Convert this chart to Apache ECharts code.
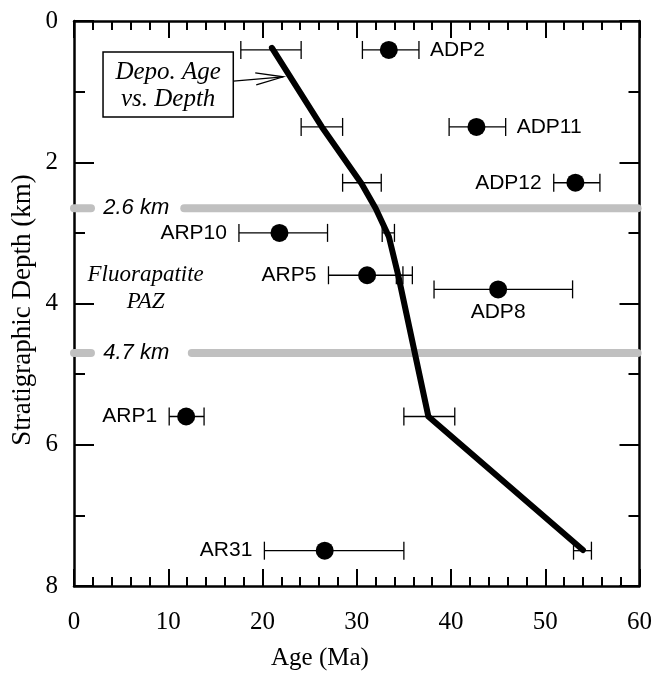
<!DOCTYPE html>
<html>
<head>
<meta charset="utf-8">
<script src="https://cdn.jsdelivr.net/npm/echarts@6/dist/echarts.min.js"></script>
<style>html,body{margin:0;padding:0;background:#fff;}#c{width:655px;height:675px;}</style>
</head>
<body>
<div id="c"></div>
<script>
// ---- data ----
const sampleNames = ['ADP2', 'ADP11', 'ADP12', 'ARP10', 'ARP5', 'ADP8', 'ARP1', 'AR31'];
const sampleAge   = [33.4, 42.7, 53.2, 21.8, 31.1, 45.0, 11.9, 26.6];
const sampleDepth = [0.41, 1.50, 2.29, 3.00, 3.60, 3.80, 5.60, 7.50];
const sampleAgeLo = [30.6, 39.8, 50.9, 17.5, 27.0, 38.2, 10.1, 20.2];
const sampleAgeHi = [36.6, 45.8, 55.8, 26.9, 35.9, 52.9, 13.8, 35.0];
const labelSide   = ['right', 'right', 'left', 'left', 'left', 'bottom', 'left', 'left'];

const depoAge   = [21.0, 26.3, 30.5, 32.0, 33.4, 34.4, 37.6, 54.0];
const depoDepth = [0.38, 1.50, 2.30, 2.65, 3.05, 3.60, 5.60, 7.49];

const depoErrDepth = [0.41, 1.50, 2.29, 3.00, 3.60, 5.60, 7.50];
const depoErrLo    = [17.7, 24.1, 28.5, 32.7, 34.2, 35.0, 53.0];
const depoErrHi    = [24.1, 28.5, 32.6, 34.0, 34.9, 40.4, 54.9];

const pazDepth    = [2.65, 4.70];
const pazLabels   = ['2.6 km', '4.7 km'];
const pazSegLeftEnd   = [1.8, 1.8];
const pazSegRightStart = [11.7, 12.5];

const xTicks = {min: 0, max: 60, interval: 10};
const yTicks = {min: 0, max: 8, interval: 2};

// ---- chart ----
const chart = echarts.init(document.getElementById('c'), null, {renderer: 'canvas'});
const serif = 'Liberation Serif';
const sans = 'Liberation Sans';

function axisCommon(showLabel, majorLen, minorLen, minorSplit) {
  return {
    type: 'value',
    axisLine: {show: true, onZero: false, lineStyle: {color: '#000', width: 2.5}},
    axisTick: {show: true, inside: true, length: majorLen, lineStyle: {color: '#000', width: 2}},
    minorTick: {show: true, splitNumber: minorSplit, length: minorLen, lineStyle: {color: '#000', width: 2}},
    splitLine: {show: false},
    minorSplitLine: {show: false},
    axisLabel: {show: showLabel, color: '#000', fontFamily: serif, fontSize: 25}
  };
}

const xMain = Object.assign(axisCommon(true, 17, 9, 5), {position: 'bottom', min: xTicks.min, max: xTicks.max, interval: xTicks.interval});
xMain.axisLabel.margin = 24;
const xTop = Object.assign(axisCommon(false, 17, 9, 5), {position: 'top', min: xTicks.min, max: xTicks.max, interval: xTicks.interval});
const yMain = Object.assign(axisCommon(true, 20, 11, 2), {position: 'left', inverse: true, min: yTicks.min, max: yTicks.max, interval: yTicks.interval});
yMain.axisLabel.margin = 16;
const yRight = Object.assign(axisCommon(false, 20, 11, 2), {position: 'right', inverse: true, min: yTicks.min, max: yTicks.max, interval: yTicks.interval});

function errRender(labelsOn) {
  return function (params, api) {
    const lo = api.coord([api.value(0), api.value(2)]);
    const hi = api.coord([api.value(1), api.value(2)]);
    const h = 9;
    const st = {stroke: '#000', lineWidth: 1.3};
    const children = [
      {type: 'line', shape: {x1: lo[0], y1: lo[1], x2: hi[0], y2: hi[1]}, style: st},
      {type: 'line', shape: {x1: lo[0], y1: lo[1] - h, x2: lo[0], y2: lo[1] + h}, style: st},
      {type: 'line', shape: {x1: hi[0], y1: hi[1] - h, x2: hi[0], y2: hi[1] + h}, style: st}
    ];
    if (labelsOn) {
      const i = params.dataIndex;
      const side = labelSide[i];
      const c = api.coord([sampleAge[i], sampleDepth[i]]);
      let tx, ty, align, va = 'middle';
      if (side === 'right') { tx = hi[0] + 11; ty = hi[1]; align = 'left'; }
      else if (side === 'left') { tx = lo[0] - 12; ty = lo[1]; align = 'right'; }
      else { tx = c[0]; ty = c[1] + 23; align = 'center'; }
      children.push({type: 'text', style: {text: sampleNames[i], x: tx, y: ty, align: align, verticalAlign: va,
        font: '21px "' + sans + '"', fill: '#000'}});
    }
    return {type: 'group', children: children};
  };
}

const series = [];
// PAZ grey lines
pazDepth.forEach(function (d, k) {
  series.push({type: 'line', data: [[xTicks.min, d], [pazSegLeftEnd[k], d]], symbol: 'none', clip: false, silent: true, z: 1,
    lineStyle: {color: '#c0c0c0', width: 8, cap: 'round'}});
  series.push({type: 'line', data: [[pazSegRightStart[k], d], [59.8, d]], symbol: 'none', clip: false, silent: true, z: 1,
    lineStyle: {color: '#c0c0c0', width: 8, cap: 'round'}});
});
// depositional age error bars
series.push({type: 'custom', renderItem: errRender(false), z: 3,
  data: depoErrDepth.map(function (d, i) { return [depoErrLo[i], depoErrHi[i], d]; })});
// depositional line
series.push({type: 'line', data: depoAge.map(function (a, i) { return [a, depoDepth[i]]; }), symbol: 'none', z: 4,
  lineStyle: {color: '#000', width: 6, cap: 'round', join: 'round'}});
// sample error bars + labels
series.push({type: 'custom', renderItem: errRender(true), z: 3,
  data: sampleAge.map(function (a, i) { return [sampleAgeLo[i], sampleAgeHi[i], sampleDepth[i]]; })});
// sample dots
series.push({type: 'scatter', data: sampleAge.map(function (a, i) { return [a, sampleDepth[i]]; }), symbol: 'circle', symbolSize: 18, z: 5,
  itemStyle: {color: '#000', opacity: 1}});

chart.setOption({
  animation: false,
  backgroundColor: '#fff',
  grid: {left: 74, right: 15, top: 21, bottom: 89},
  xAxis: [xMain, xTop],
  yAxis: [yMain, yRight],
  series: series
});

function px(x, y) { return chart.convertToPixel({xAxisIndex: 0, yAxisIndex: 0}, [x, y]); }

const g = [];
// axis titles
g.push({type: 'text', x: 23, y: 310, rotation: Math.PI / 2, style: {text: 'Stratigraphic Depth (km)', align: 'center', verticalAlign: 'middle', font: '27px "' + serif + '"', fill: '#000'}});
g.push({type: 'text', x: 320, y: 658, style: {text: 'Age (Ma)', align: 'center', verticalAlign: 'middle', font: '25px "' + serif + '"', fill: '#000'}});
// PAZ labels
pazDepth.forEach(function (d, k) {
  const p = px(6.6, d);
  g.push({type: 'text', x: p[0], y: p[1], z: 10, style: {text: pazLabels[k], align: 'center', verticalAlign: 'middle', font: 'italic 22px "' + sans + '"', fill: '#000'}});
});
const pz = px(7.6, 3.8);
g.push({type: 'text', x: pz[0], y: pz[1] - 14, style: {text: 'Fluorapatite', align: 'center', verticalAlign: 'middle', font: 'italic 23px "' + serif + '"', fill: '#000'}});
g.push({type: 'text', x: pz[0], y: pz[1] + 13, style: {text: 'PAZ', align: 'center', verticalAlign: 'middle', font: 'italic 23px "' + serif + '"', fill: '#000'}});
// annotation box
const b0 = px(3.08, 0.44), b1 = px(16.9, 1.36);
g.push({type: 'rect', z: 10, shape: {x: b0[0], y: b0[1], width: b1[0] - b0[0], height: b1[1] - b0[1]}, style: {fill: '#fff', stroke: '#000', lineWidth: 1.5}});
const bc = (b0[0] + b1[0]) / 2, bm = (b0[1] + b1[1]) / 2;
g.push({type: 'text', z: 11, x: bc, y: bm - 12, style: {text: 'Depo. Age', align: 'center', verticalAlign: 'middle', font: 'italic 25px "' + serif + '"', fill: '#000'}});
g.push({type: 'text', z: 11, x: bc, y: bm + 15, style: {text: 'vs. Depth', align: 'center', verticalAlign: 'middle', font: 'italic 25px "' + serif + '"', fill: '#000'}});
// arrow
const tip = px(22.2, 0.79);
const startY = b0[1] + 29;
g.push({type: 'line', z: 11, shape: {x1: b1[0], y1: startY, x2: tip[0], y2: tip[1]}, style: {stroke: '#000', lineWidth: 1.3}});
g.push({type: 'polyline', z: 11, shape: {points: [[tip[0] - 28, tip[1] - 4], [tip[0], tip[1]], [tip[0] - 27, tip[1] + 8]]}, style: {stroke: '#000', lineWidth: 1.3, fill: null}});

chart.setOption({graphic: g});
</script>
</body>
</html>
